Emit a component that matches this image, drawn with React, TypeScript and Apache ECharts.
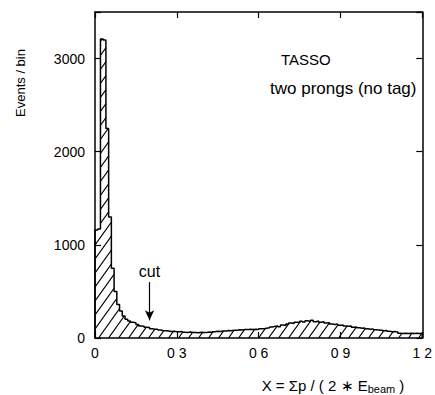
import React, { useEffect, useRef } from 'react';
import * as echarts from 'echarts';

// Histogram of X = sum p / (2 E_beam), bins of width 0.01 from 0 to 1.2
const binWidth = 0.01;
const counts: number[] = [
  1160, 1170, 3210, 3200, 2250, 1300, 750, 500, 360, 290,
  235, 200, 183, 170, 165, 145, 130, 125, 115, 112,
  100, 95, 93, 85, 80, 78, 75, 70, 72, 68,
  66, 70, 62, 60, 64, 58, 60, 56, 62, 58,
  60, 64, 58, 66, 72, 70, 76, 74, 80, 78,
  84, 82, 88, 86, 92, 90, 95, 92, 95, 90,
  98, 100, 105, 110, 118, 125, 130, 122, 140, 135,
  150, 160, 155, 170, 165, 180, 172, 185, 178, 190,
  175, 182, 168, 175, 160, 165, 150, 145, 150, 138,
  140, 130, 125, 128, 115, 118, 110, 105, 108, 100,
  95, 98, 88, 85, 82, 78, 80, 72, 68, 70,
  65, 50, 48, 50, 48, 50, 48, 50, 48, 50,
];

const xMin = 0;
const xMax = 1.2;
const xInterval = 0.3;
const xTickLabels = ['0', '0 3', '0 6', '0 9', '1 2'];
const yMin = 0;
const yMax = 3500;
const yInterval = 1000;
const yTickLabels = ['0', '1000', '2000', '3000'];

const cutX = 0.2;
const cutArrowFrom = 600;
const cutArrowTo = 190;

const FONT = '"Liberation Sans", Arial, Helvetica, sans-serif';

function makeHatch(): HTMLCanvasElement {
  const w = 10;
  const h = 14;
  const c = document.createElement('canvas');
  c.width = w;
  c.height = h;
  const ctx = c.getContext('2d')!;
  ctx.strokeStyle = '#000';
  ctx.lineWidth = 1.1;
  ctx.beginPath();
  ctx.moveTo(-2, h + 2.8);
  ctx.lineTo(w + 2, -2.8);
  ctx.moveTo(-2 - w, h + 2.8);
  ctx.lineTo(2, -2.8);
  ctx.moveTo(w - 2, h + 2.8);
  ctx.lineTo(2 * w + 2, -2.8);
  ctx.stroke();
  return c;
}

export default function App() {
  const ref = useRef<HTMLDivElement>(null);

  useEffect(() => {
    if (!ref.current) return;
    const chart = echarts.init(ref.current, undefined, { renderer: 'svg' });

    const points: [number, number][] = [[0, 0]];
    counts.forEach((c, i) => points.push([+(i * binWidth).toFixed(4), c]));
    points.push([xMax, counts[counts.length - 1]]);
    points.push([xMax, 0]);

    const hatch = makeHatch();

    const xLabel = (v: number) => {
      const i = Math.round((v - xMin) / xInterval);
      return Math.abs(v - (xMin + i * xInterval)) < 1e-6 ? xTickLabels[i] ?? '' : '';
    };
    const yLabel = (v: number) => {
      const i = Math.round((v - yMin) / yInterval);
      return Math.abs(v - (yMin + i * yInterval)) < 1e-6 ? yTickLabels[i] ?? '' : '';
    };

    const axisLine = { show: true, onZero: false, lineStyle: { color: '#000', width: 1.5 } };
    const axisTick = { show: true, inside: true, length: 6, lineStyle: { color: '#000', width: 1.2 } };

    chart.setOption({
      animation: false,
      backgroundColor: '#fff',
      grid: { left: 95, right: 11, top: 12, bottom: 57, containLabel: false },
      xAxis: [
        {
          type: 'value', min: xMin, max: xMax, interval: xInterval, position: 'bottom',
          axisLine, axisTick, splitLine: { show: false },
          axisLabel: { color: '#000', fontSize: 14, fontFamily: FONT, margin: 8, formatter: xLabel },
        },
        {
          type: 'value', min: xMin, max: xMax, interval: xInterval, position: 'top',
          axisLine, axisTick, splitLine: { show: false }, axisLabel: { show: false },
        },
      ],
      yAxis: [
        {
          type: 'value', min: yMin, max: yMax, interval: yInterval, position: 'left',
          axisLine, axisTick, splitLine: { show: false },
          axisLabel: { color: '#000', fontSize: 14, fontFamily: FONT, margin: 10, formatter: yLabel },
        },
        {
          type: 'value', min: yMin, max: yMax, interval: yInterval, position: 'right',
          axisLine, axisTick, splitLine: { show: false }, axisLabel: { show: false },
        },
      ],
      series: [
        {
          type: 'line',
          xAxisIndex: 0,
          yAxisIndex: 0,
          step: 'end',
          symbol: 'none',
          data: points,
          lineStyle: { color: '#000', width: 1.5 },
          areaStyle: {
            color: { image: hatch, repeat: 'repeat', imageWidth: 10, imageHeight: 14 } as any,
            opacity: 1,
          },
          markLine: {
            silent: true,
            symbol: ['none', 'arrow'],
            symbolSize: [7, 10],
            lineStyle: { color: '#000', width: 1.2, type: 'solid' },
            label: {
              show: true, position: 'start', formatter: 'cut', color: '#000',
              fontSize: 16, fontFamily: FONT, distance: 3,
            },
            data: [[{ coord: [cutX, cutArrowFrom] }, { coord: [cutX, cutArrowTo] }]],
          },
        },
      ],
      graphic: [
        {
          type: 'text', x: 20, y: 83, rotation: Math.PI / 2,
          style: { text: 'Events / bin', fontSize: 13, fontFamily: FONT, fill: '#000', align: 'center', verticalAlign: 'middle' },
        },
        {
          type: 'text', x: 281, y: 59,
          style: { text: 'TASSO', fontSize: 15, fontFamily: FONT, fill: '#000', align: 'left', verticalAlign: 'middle' },
        },
        {
          type: 'text', x: 270, y: 88,
          style: { text: 'two prongs (no tag)', fontSize: 17, fontFamily: FONT, fill: '#000', align: 'left', verticalAlign: 'middle' },
        },
        {
          type: 'text', x: 333, y: 385,
          style: {
            text: 'X = Σp / ( 2 ∗ E{sub|beam} )',
            fontSize: 15, fontFamily: FONT, fill: '#000', align: 'center', verticalAlign: 'middle',
            rich: { sub: { fontSize: 11, fontFamily: FONT, fill: '#000', padding: [8, 0, 0, 0] } },
          },
        },
      ],
    });

    return () => chart.dispose();
  }, []);

  return <div ref={ref} style={{ position: 'absolute', left: 0, top: 0, width: 435, height: 395 }} />;
}
